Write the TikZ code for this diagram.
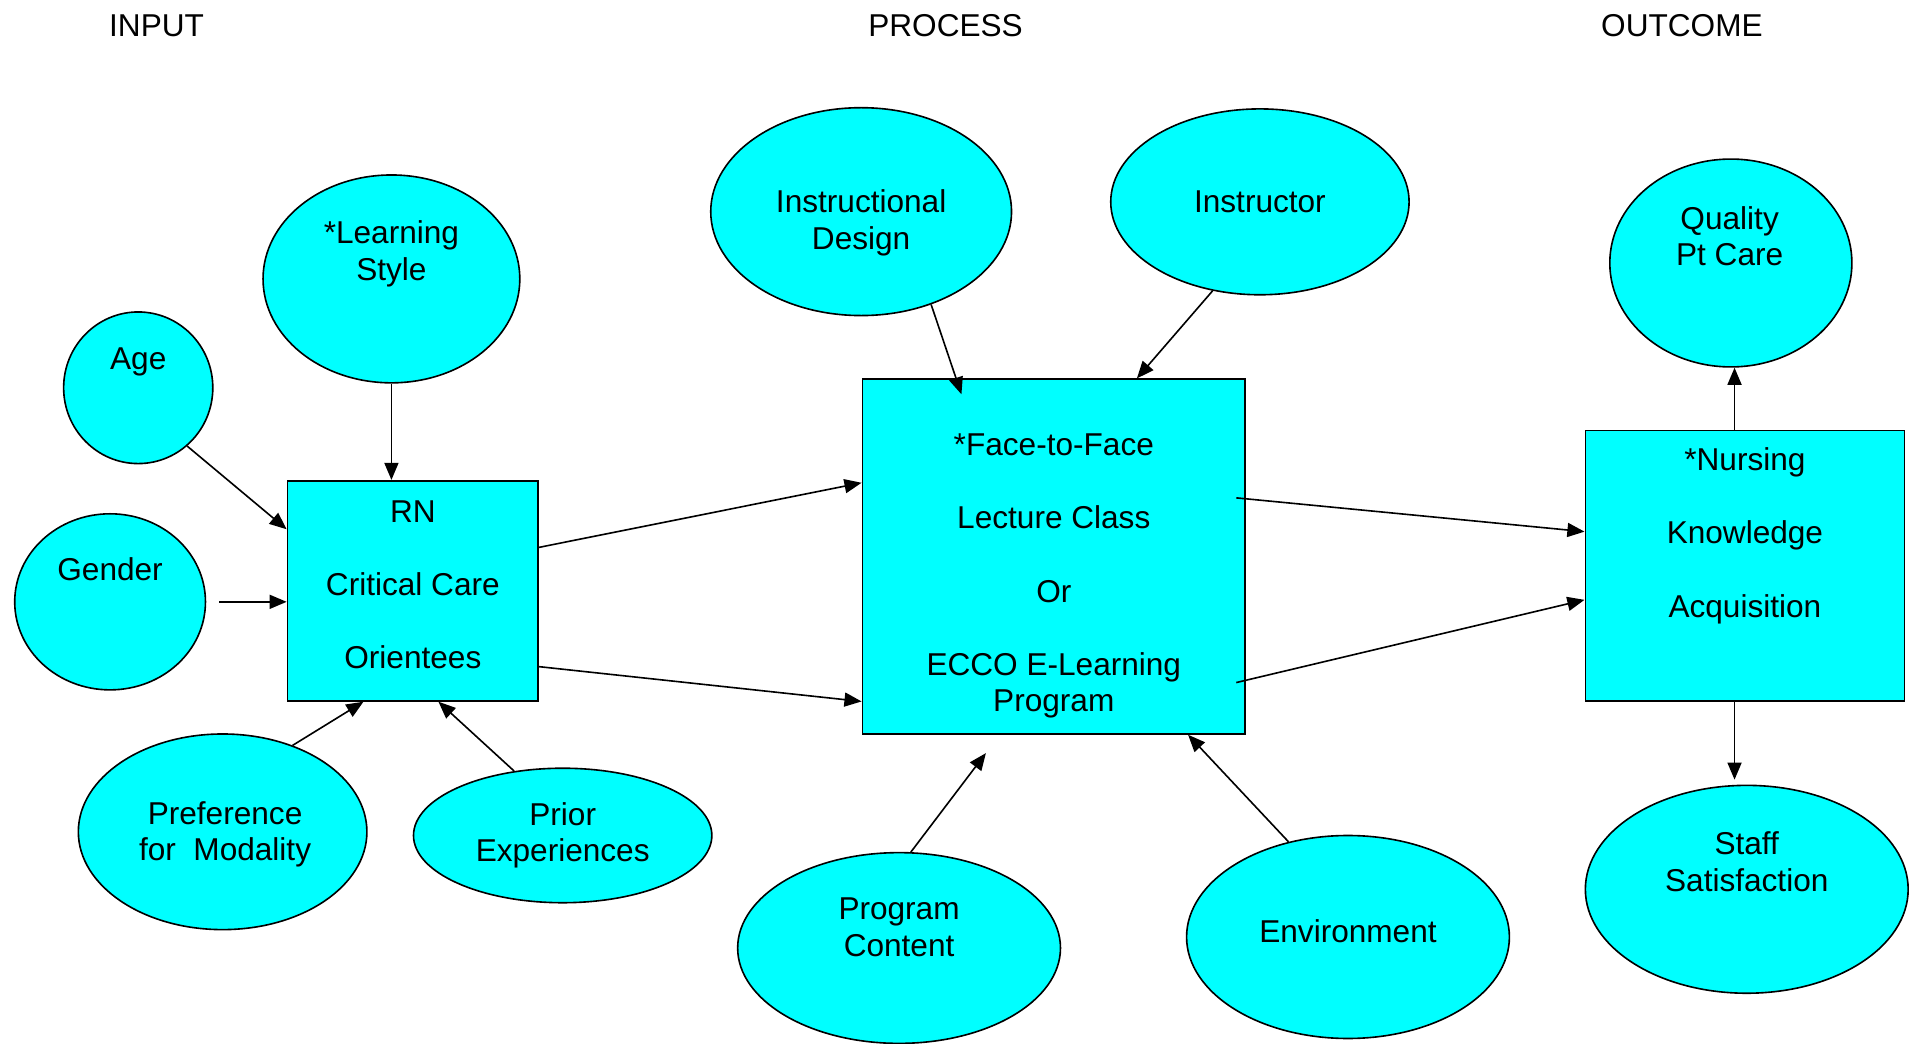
\documentclass[tikz,border=0pt]{standalone}
\usepackage{fontspec}
\setmainfont{Liberation Sans}
\usetikzlibrary{shapes.geometric,calc,arrows.meta}
\definecolor{aqua}{RGB}{0,255,255}

\begin{document}
\begin{tikzpicture}[x=0.02cm,y=-0.02cm,line width=0.75pt,
  >={Triangle[length=2.8mm,width=2.3mm]},
  every node/.style={font=\fontsize{14.7}{17}\selectfont},
  ell/.style 2 args={draw,fill=aqua,ellipse,inner sep=0pt,minimum width=#1*0.04cm,minimum height=#2*0.04cm},
  box/.style 2 args={draw,fill=aqua,rectangle,inner sep=0pt,minimum width=#1*0.02cm,minimum height=#2*0.02cm},
  txt/.style={align=center,inner sep=0pt}]
  \useasboundingbox (0,0) rectangle (1568,853);

  % titres
  \node[txt] (tin) at (128,21) {INPUT};
  \node[txt] (tpr) at (773,21) {PROCESS};
  \node[txt] (tout) at (1375,21) {OUTCOME};

  % input
  \node[ell={61}{62}] (age) at (113,317) {};
  \node[txt] (age-t) at (113,296) {Age};
  \node[ell={105}{85}] (ls) at (320,228) {};
  \node[txt] (ls-t) at (320,207.5) {*Learning\\Style};
  \node[ell={78}{72}] (gen) at (90,492) {};
  \node[txt] (gen-t) at (90,465) {Gender};
  \node[ell={118}{80}] (pref) at (182,680) {};
  \node[txt] (pref-t) at (184,682) {Preference\\for~ Modality};
  \node[ell={122}{55}] (prior) at (460,683) {};
  \node[txt] (prior-t) at (460,683) {Prior\\Experiences};
  \node[box={205}{180}] (rn) at (337.5,483) {};
  \node[txt] (rn-t) at (337.5,478) {RN\\[17pt]Critical Care\\[17pt]Orientees};

  % process
  \node[ell={123}{85}] (id) at (704,173) {};
  \node[txt] (id-t) at (704,182) {Instructional\\Design};
  \node[ell={122}{76}] (inst) at (1030,165) {};
  \node[txt] (inst-t) at (1030,165) {Instructor};
  \node[ell={132}{78}] (pc) at (735,775) {};
  \node[txt] (pc-t) at (735,758) {Program\\Content};
  \node[ell={132}{83}] (env) at (1102,766) {};
  \node[txt] (env-t) at (1102,761) {Environment};
  \node[box={313}{290}] (proc) at (861.5,455) {};
  \node[txt] (proc-t) at (861.5,471) {*Face-to-Face\\[17pt]Lecture Class\\[17pt]Or\\[17pt]ECCO E-Learning\\Program};

  % outcome
  \node[ell={99}{85}] (qc) at (1415,215) {};
  \node[txt] (qc-t) at (1414,193) {Quality\\Pt Care};
  \node[ell={132}{85}] (ss) at (1428,727) {};
  \node[txt] (ss-t) at (1428,704.5) {Staff\\Satisfaction};
  \node[box={261}{221}] (nk) at (1426.5,462.5) {};
  \node[txt] (nk-t) at (1426.5,438) {*Nursing\\[17pt]Knowledge\\[17pt]Acquisition};

  % fleches
  \draw[->] (age.-50) -- (rn.154);
  \draw[->] (ls.south) -- (rn.north -| ls.south);
  \draw[->,shorten <=6] (gen.east) -- (gen.east -| rn.west);
  \draw[->] (pref.51) -- (rn.-114);
  \draw[->] (prior.127) -- (rn.-77);
  \draw[->] (rn.19) -- (proc.159);
  \draw[->] (rn.-31) -- (proc.-143);
  \draw[->] (id.-53) -- ($(proc.north)+(-75.5,13)$);
  \draw[->] (inst.-118) -- (proc.65);
  \draw[->] (pc.83) -- ($(proc.south)+(-55.5,15)$);
  \draw[->] (env.122) -- (proc.-53);
  \draw[->] ($(proc.east)+(-8,-48)$) -- (nk.168);
  \draw[->] ($(proc.east)+(-8,103)$) -- (nk.-168);
  \draw[->] ($(nk.north -| qc.south)+(3,0)$) -- ($(qc.south)+(3,0)$);
  \draw[->] ($(nk.south -| qc.south)+(3,0)$) -- ($(ss.north -| qc.south)+(3,-4)$);
\end{tikzpicture}
\end{document}
